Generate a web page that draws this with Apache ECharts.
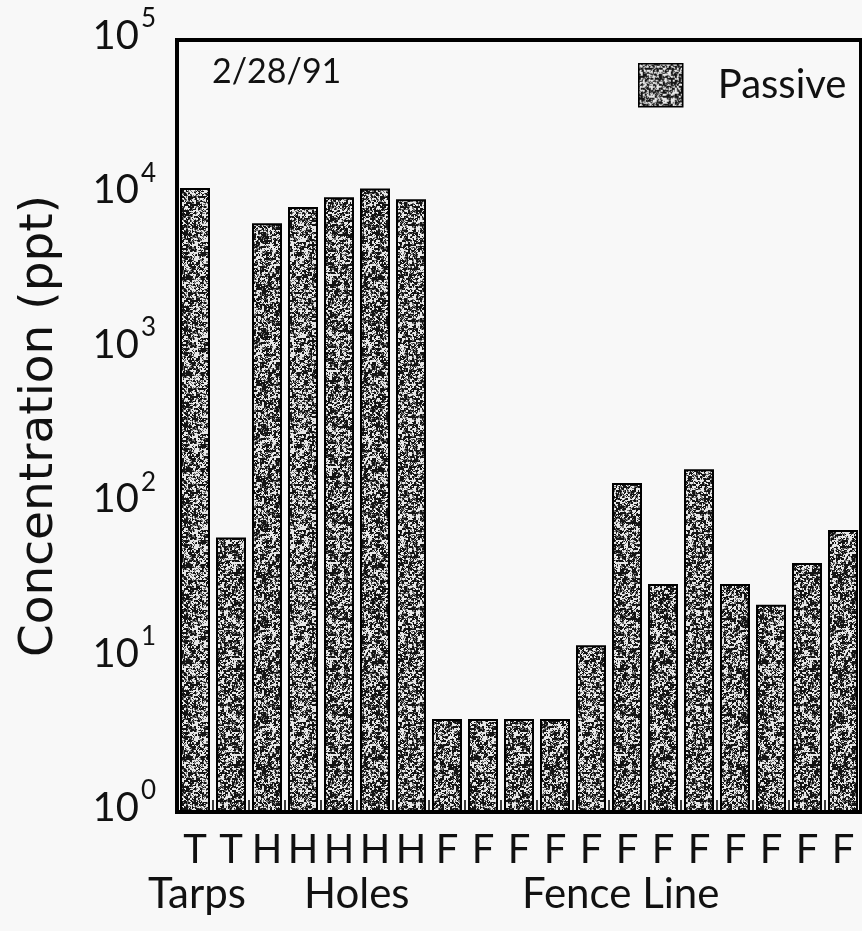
<!DOCTYPE html>
<html>
<head>
<meta charset="utf-8">
<script src="https://cdn.jsdelivr.net/npm/echarts@6/dist/echarts.min.js"></script>
<style>
  html, body { margin: 0; padding: 0; background: #f8f8f8; }
  #chart { width: 862px; height: 931px; }
</style>
</head>
<body>
<div id="chart"></div>
<script>
// Sample site codes along the x axis (T = tarps, H = holes, F = fence line)
const siteCodes = ['T', 'T', 'H', 'H', 'H', 'H', 'H',
  'F', 'F', 'F', 'F', 'F', 'F', 'F', 'F', 'F', 'F', 'F', 'F'];
// Passive sampler concentrations, ppt
const passiveValues = [11000, 60, 6500, 8300, 9600, 10900, 9300,
  4, 4, 4, 4, 12, 135, 30, 166, 30, 22, 41, 67];
// Decade ticks of the log axis
const yTickExponents = [0, 1, 2, 3, 4, 5];
// Group captions under the site codes
const groupNames = ['Tarps', 'Holes', 'Fence Line'];
const sampleDate = '2/28/91';
const seriesName = 'Passive';

// Stippled grey fill, built from a deterministic hash so it looks like a halftone screen
function hash(x, y) {
  let h = (x * 374761393 + y * 668265263) | 0;
  h = (h ^ (h >>> 13)) * 1274126177 | 0;
  h = h ^ (h >>> 16);
  return (h >>> 0) / 4294967295;
}
function makeStipple(size) {
  const c = document.createElement('canvas');
  c.width = c.height = size;
  const ctx = c.getContext('2d');
  const img = ctx.createImageData(size, size);
  for (let y = 0; y < size; y++) {
    for (let x = 0; x < size; x++) {
      const v = 0.35 * hash(x, y) + 0.4 * hash(x >> 1, (y >> 1) + 977) + 0.25 * hash(x >> 2, (y >> 1) + 4111);
      let g;
      if (v < 0.47) g = 20;
      else if (v < 0.56) g = 110;
      else g = 232;
      const i = (y * size + x) * 4;
      img.data[i] = img.data[i + 1] = img.data[i + 2] = g;
      img.data[i + 3] = 255;
    }
  }
  ctx.putImageData(img, 0, 0);
  return c;
}
const stipple = makeStipple(96);

const FONT = 'Lato';
const chart = echarts.init(document.getElementById('chart'), null, { renderer: 'canvas' });

chart.setOption({
  backgroundColor: '#f8f8f8',
  animation: false,
  textStyle: { fontFamily: FONT, color: '#111' },
  grid: {
    left: 177, right: 1, top: 40, bottom: 119,
    outerBoundsMode: 'none',
    containLabel: false,
    show: true, borderColor: '#000', borderWidth: 4, backgroundColor: 'transparent'
  },
  legend: {
    data: [seriesName],
    left: 633, top: 58,
    itemWidth: 44, itemHeight: 43,
    icon: 'rect',
    itemStyle: { borderColor: '#000', borderWidth: 1.5 },
    textStyle: { fontFamily: FONT, fontSize: 40, color: '#111', padding: [0, 0, 0, 30] }
  },
  xAxis: {
    type: 'category',
    data: siteCodes,
    axisLine: { show: true, lineStyle: { color: '#000', width: 4 } },
    axisTick: { show: true, inside: true, length: 12, interval: 0, lineStyle: { color: '#000', width: 1.5 } },
    axisLabel: { interval: 0, margin: 18, fontFamily: FONT, fontSize: 40, color: '#111' }
  },
  yAxis: {
    type: 'log',
    logBase: 10,
    min: Math.pow(10, yTickExponents[0]),
    max: Math.pow(10, yTickExponents[yTickExponents.length - 1]),
    name: 'Concentration (ppt)',
    nameLocation: 'middle',
    nameRotate: 90,
    nameGap: 114,
    nameTextStyle: { fontFamily: 'DejaVu Sans', fontSize: 47, color: '#111' },
    axisLine: { show: true, lineStyle: { color: '#000', width: 4 } },
    axisTick: { show: false },
    minorTick: { show: false },
    splitLine: { show: false },
    axisLabel: {
      margin: 21,
      padding: [0, 0, 8, 0],
      formatter: function (v) {
        const e = Math.round(Math.log10(v));
        return '{b|10}{s|' + e + '}';
      },
      rich: {
        b: { fontFamily: FONT, fontSize: 40, color: '#111', lineHeight: 60 },
        s: { fontFamily: FONT, fontSize: 26, color: '#111', verticalAlign: 'top', padding: [0, 0, 0, 2] }
      }
    }
  },
  series: [{
    name: seriesName,
    type: 'bar',
    data: passiveValues,
    barCategoryGap: '16.7%',
    itemStyle: {
      color: { image: stipple, repeat: 'repeat' },
      borderColor: '#000',
      borderWidth: 2
    }
  }],
  graphic: [
    { type: 'text', left: 212, top: 55,
      style: { text: sampleDate, fontFamily: FONT, fontSize: 34, fill: '#111' } },
    { type: 'text', left: 148, top: 873,
      style: { text: groupNames[0], fontFamily: FONT, fontSize: 42, fill: '#111' } },
    { type: 'text', left: 304, top: 873,
      style: { text: groupNames[1], fontFamily: FONT, fontSize: 42, fill: '#111' } },
    { type: 'text', left: 522, top: 873,
      style: { text: groupNames[2], fontFamily: FONT, fontSize: 42, fill: '#111' } }
  ]
});
</script>
</body>
</html>
